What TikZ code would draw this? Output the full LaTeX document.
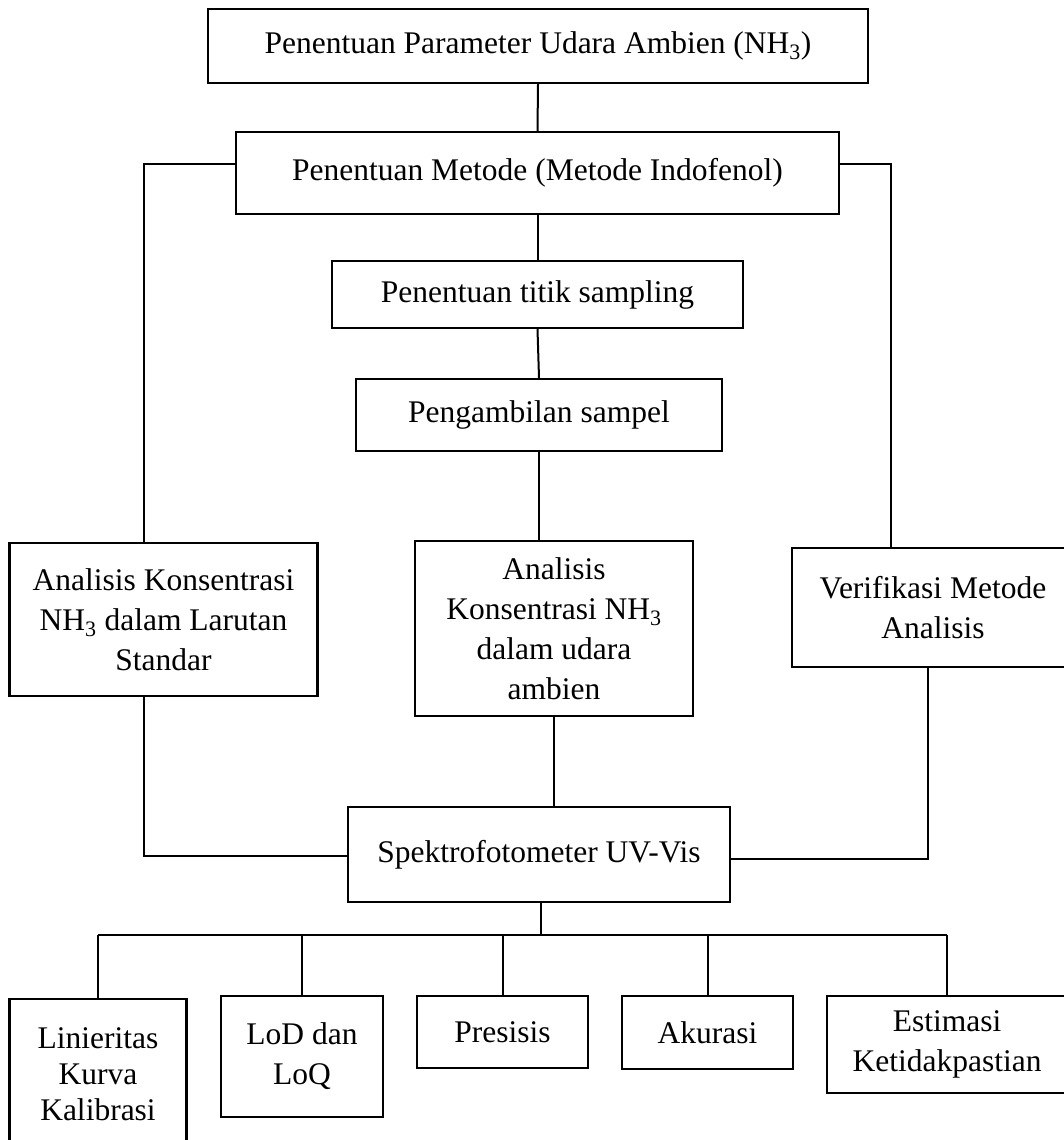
\documentclass[tikz,border=0pt]{standalone}
\usepackage{fontspec}
\setmainfont{Liberation Serif}
\tikzset{
  kotak/.style={draw,line width=2.4pt,inner sep=0pt,align=center,
    font=\fontsize{31.5}{40}\selectfont},
  garis/.style={line width=2pt}
}
\begin{document}
\begin{tikzpicture}[x=1pt,y=-1pt]
    \useasboundingbox (0,0) rectangle (1064,1140);
    \node[kotak,minimum width=660,minimum height=74] (param) at (538,46) {Penentuan Parameter Udara Ambien (NH\textsubscript{3})};
    \node[kotak,minimum width=603,minimum height=82] (metode) at (537.5,173) {Penentuan Metode (Metode Indofenol)};
    \node[kotak,minimum width=411,minimum height=67] (titik) at (537.5,294.5) {Penentuan titik sampling};
    \node[kotak,minimum width=366,minimum height=72] (sampel) at (539,415) {Pengambilan sampel};
    \node[kotak,minimum width=308,minimum height=153] (larutan) at (163.5,619.5) {Analisis Konsentrasi\\NH\textsubscript{3} dalam Larutan\\Standar};
    \node[kotak,minimum width=278,minimum height=175] (udara) at (554,628.5) {Analisis\\Konsentrasi NH\textsubscript{3}\\dalam udara\\ambien};
    \node[kotak,minimum width=282,minimum height=119] (verifikasi) at (933,607.5) {Verifikasi Metode\\Analisis};
    \node[kotak,minimum width=382,minimum height=95] (spektro) at (539,854.5) {Spektrofotometer UV-Vis};
    \node[kotak,minimum width=177,minimum height=151,font=\fontsize{31.5}{36}\selectfont] (linier) at (98,1074.5) {Linieritas\\Kurva\\Kalibrasi};
    \node[kotak,minimum width=162,minimum height=121] (lod) at (302,1056.5) {LoD dan\\LoQ};
    \node[kotak,minimum width=171,minimum height=72] (presisis) at (502.5,1032) {Presisis};
    \node[kotak,minimum width=171,minimum height=73] (akurasi) at (707.5,1032.5) {Akurasi};
    \node[kotak,minimum width=240,minimum height=97] (estimasi) at (947,1044.5) {Estimasi\\Ketidakpastian};

    \coordinate (kiri) at (144,164);
    \coordinate (kanan) at (891,164);
    \coordinate (kanan2) at (928,859);
    \coordinate (bus) at (541,935);

    \draw[garis] (param.south) -- (metode.north);
    \draw[garis] (metode.west |- kiri) -- (kiri) -- (kiri |- larutan.north);
    \draw[garis] (metode.east |- kanan) -- (kanan) -- (kanan |- verifikasi.north);
    \draw[garis] (metode.south) -- (titik.north);
    \draw[garis] (titik.south) -- (sampel.north);
    \draw[garis] (sampel.south) -- (sampel.south |- udara.north);
    \draw[garis] (udara.south) -- (udara.south |- spektro.north);
    \draw[garis] (kiri |- larutan.south) |- ([yshift=-1.5]spektro.west);
    \draw[garis] (kanan2 |- verifikasi.south) -- (kanan2) -- (spektro.east |- kanan2);
    \draw[garis] (spektro.south -| bus) -- (bus);
    \draw[garis] (linier.north |- bus) -- (estimasi.north |- bus);
    \foreach \k in {linier,lod,presisis,akurasi,estimasi}
      \draw[garis] (\k.north |- bus) -- (\k.north);
  \end{tikzpicture}
\end{document}
